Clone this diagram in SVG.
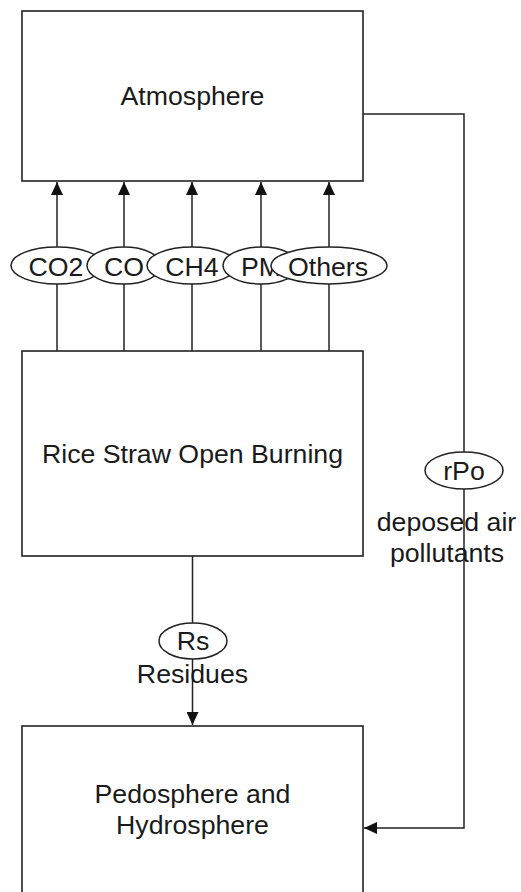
<svg xmlns="http://www.w3.org/2000/svg" width="521" height="892" viewBox="0 0 521 892">
<style>
.box{fill:#fff;stroke:#222;stroke-width:1.6}
.ell{fill:#fff;stroke:#222;stroke-width:1.5}
.ln{fill:none;stroke:#222;stroke-width:1.5}
text{font-family:"Liberation Sans",Arial,sans-serif;font-size:26.7px;fill:#1a1a1a;text-anchor:middle}
</style>
<defs>
<marker id="ah" markerUnits="userSpaceOnUse" markerWidth="14" markerHeight="12" refX="13" refY="6" orient="auto">
<path d="M0,0 L13,6 L0,12 z" fill="#111"/>
</marker>
</defs>
<g id="atmosphere">
<rect class="box" x="22" y="11" width="341" height="170"/>
<text x="192.5" y="105">Atmosphere</text>
</g>
<g id="burning">
<rect class="box" x="22" y="351" width="341" height="205"/>
<text x="192.5" y="463">Rice Straw Open Burning</text>
</g>
<g id="pedosphere">
<rect class="box" x="22" y="726" width="341" height="205"/>
<text x="192.5" y="803">Pedosphere and</text>
<text x="192.5" y="834">Hydrosphere</text>
</g>
<g id="connectors">
<line class="ln" x1="57" y1="351" x2="57" y2="182" marker-end="url(#ah)"/>
<line class="ln" x1="124" y1="351" x2="124" y2="182" marker-end="url(#ah)"/>
<line class="ln" x1="192" y1="351" x2="192" y2="182" marker-end="url(#ah)"/>
<line class="ln" x1="261" y1="351" x2="261" y2="182" marker-end="url(#ah)"/>
<line class="ln" x1="329" y1="351" x2="329" y2="182" marker-end="url(#ah)"/>
<line class="ln" x1="192.5" y1="556" x2="192.5" y2="725" marker-end="url(#ah)"/>
<path class="ln" d="M363,114 H464 V828 H364" marker-end="url(#ah)"/>
</g>
<g id="label-co2">
<ellipse class="ell" cx="57" cy="265.5" rx="46" ry="18.5"/>
<text x="56" y="276">CO2</text>
</g>
<g id="label-co">
<ellipse class="ell" cx="124" cy="265.5" rx="37" ry="18.5"/>
<text x="124" y="276">CO</text>
</g>
<g id="label-ch4">
<ellipse class="ell" cx="192" cy="265.5" rx="45" ry="18.5"/>
<text x="192" y="276">CH4</text>
</g>
<g id="label-pm">
<ellipse class="ell" cx="261" cy="265.5" rx="38" ry="18.5"/>
<text x="261" y="276">PM</text>
</g>
<g id="label-others">
<ellipse class="ell" cx="329" cy="265.5" rx="58" ry="18.5"/>
<text x="328" y="276">Others</text>
</g>
<g id="label-rpo">
<ellipse class="ell" cx="464" cy="470.5" rx="39" ry="18.5"/>
<text x="464" y="480">rPo</text>
<text x="446.5" y="531">deposed air</text>
<text x="447" y="562">pollutants</text>
</g>
<g id="label-rs">
<ellipse class="ell" cx="193" cy="641" rx="34" ry="18"/>
<text x="193" y="650">Rs</text>
<text x="192.5" y="683">Residues</text>
</g>
</svg>
